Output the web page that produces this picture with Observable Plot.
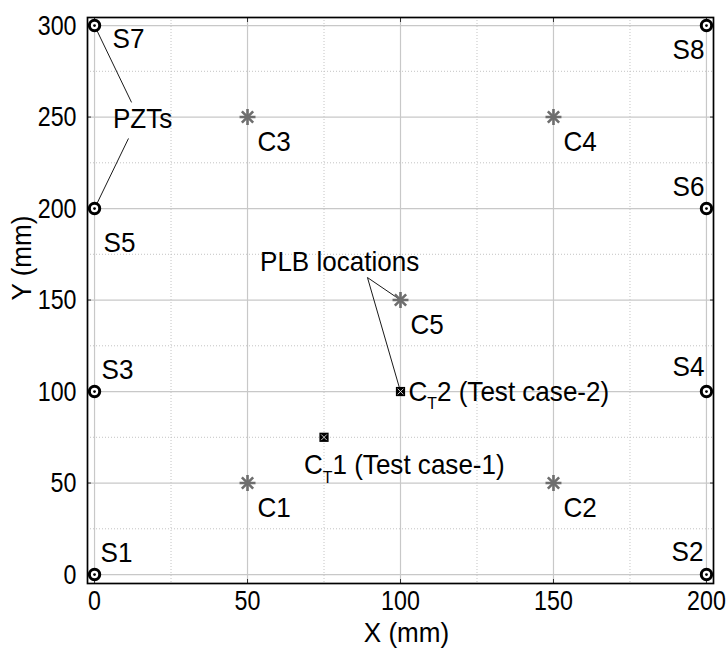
<!DOCTYPE html>
<html>
<head>
<meta charset="utf-8">
<script src="https://cdn.jsdelivr.net/npm/d3@7"></script>
<script src="https://cdn.jsdelivr.net/npm/@observablehq/plot@0.6"></script>
<style>
  body { margin: 0; background: #fff; }
  #chart svg { display: block; }
</style>
</head>
<body>
<div id="chart"></div>
<script>
// PZT sensor positions on the 200 x 300 mm plate
const sensorNames = ["S1", "S2", "S3", "S4", "S5", "S6", "S7", "S8"];
const sensorX = [0, 200, 0, 200, 0, 200, 0, 200];
const sensorY = [0, 0, 100, 100, 200, 200, 300, 300];

// Pencil-lead-break calibration locations
const plbNames = ["C1", "C2", "C3", "C4", "C5"];
const plbX = [50, 150, 50, 150, 100];
const plbY = [50, 50, 250, 250, 150];

// Test-case source locations
const testNames = ["C_T1 (Test case-1)", "C_T2 (Test case-2)"];
const testX = [75, 100];
const testY = [75, 100];

// Axis ticks
const xTicks = [0, 50, 100, 150, 200];
const yTicks = [0, 50, 100, 150, 200, 250, 300];
const xMinor = [25, 75, 125, 175];
const yMinor = [25, 75, 125, 175, 225, 275];

// Callout text anchors (data units)
const pztCallout = {text: "PZTs", x: 15.7, y: 249, upper: [12.1, 258], lower: [11.1, 238.3]};
const plbCallout = {text: "PLB locations", x: 80.1, y: 170.5, apex: [89.2, 162.3]};

const sensors = sensorNames.map((name, i) => ({name, x: sensorX[i], y: sensorY[i]}));
const plbs = plbNames.map((name, i) => ({name, x: plbX[i], y: plbY[i]}));
const tests = testNames.map((name, i) => ({name, x: testX[i], y: testY[i]}));

// Label placement for each sensor name (pixels)
const sensorLabelPlacement = {
  S1: {dx: 6, dy: -22, anchor: "start"},
  S2: {dx: -3, dy: -23, anchor: "end"},
  S3: {dx: 7, dy: -22, anchor: "start"},
  S4: {dx: -2, dy: -25, anchor: "end"},
  S5: {dx: 9, dy: 34, anchor: "start"},
  S6: {dx: -2, dy: -22, anchor: "end"},
  S7: {dx: 18, dy: 13, anchor: "start"},
  S8: {dx: -2, dy: 24, anchor: "end"}
};

const FONT = "'Liberation Sans', Arial, Helvetica, sans-serif";
const FS = 28;

const pztLinks = [
  {x1: sensors[6].x, y1: sensors[6].y, x2: pztCallout.upper[0], y2: pztCallout.upper[1]},
  {x1: sensors[4].x, y1: sensors[4].y, x2: pztCallout.lower[0], y2: pztCallout.lower[1]}
];
const plbLinks = [
  {x1: plbCallout.apex[0], y1: plbCallout.apex[1], x2: plbs[4].x, y2: plbs[4].y},
  {x1: plbCallout.apex[0], y1: plbCallout.apex[1], x2: tests[1].x, y2: tests[1].y}
];

const chart = Plot.plot({
  width: 728,
  height: 651,
  marginLeft: 87,
  marginRight: 15,
  marginTop: 17,
  marginBottom: 68,
  style: {fontFamily: FONT, fontSize: FS + "px", color: "black", background: "white"},
  x: {domain: [-2.3, 202.3], label: null},
  y: {domain: [-4.9, 304.4], label: null},
  marks: [
    // minor dotted grid
    Plot.ruleX(xMinor, {stroke: "#c4c4c4", strokeWidth: 1, strokeDasharray: "1,2"}),
    Plot.ruleY(yMinor, {stroke: "#c4c4c4", strokeWidth: 1, strokeDasharray: "1,2"}),
    // major grid
    Plot.ruleX(xTicks, {stroke: "#c8c8c8", strokeWidth: 1.2}),
    Plot.ruleY(yTicks, {stroke: "#c8c8c8", strokeWidth: 1.2}),
    // tick labels
    Plot.axisX(xTicks, {tickSize: 0, tickPadding: 7, label: null, fontSize: FS}),
    Plot.axisY(yTicks, {tickSize: 0, tickPadding: 11, label: null, fontSize: FS}),
    // small inward ticks
    Plot.axisX(xTicks, {anchor: "bottom", tickSize: -4, text: null, label: null, stroke: "#333"}),
    Plot.axisX(xTicks, {anchor: "top", tickSize: -4, text: null, label: null, stroke: "#333"}),
    Plot.axisY(yTicks, {anchor: "left", tickSize: -4, text: null, label: null, stroke: "#333"}),
    Plot.axisY(yTicks, {anchor: "right", tickSize: -4, text: null, label: null, stroke: "#333"}),
    Plot.frame({stroke: "black", strokeWidth: 1.7}),
    // axis titles
    Plot.text(["X (mm)"], {frameAnchor: "bottom", dx: 6, dy: 58, text: d => d, fontSize: FS}),
    Plot.text(["Y (mm)"], {frameAnchor: "left", dx: -65, rotate: -90, text: d => d, fontSize: FS}),
    // callout leaders
    Plot.link(pztLinks, {x1: "x1", y1: "y1", x2: "x2", y2: "y2", stroke: "black", strokeWidth: 0.9}),
    Plot.link(plbLinks, {x1: "x1", y1: "y1", x2: "x2", y2: "y2", stroke: "black", strokeWidth: 0.9}),
    // PZT sensors: ring with centre dot
    Plot.dot(sensors, {x: "x", y: "y", r: 5.2, fill: "white", stroke: "black", strokeWidth: 3}),
    Plot.dot(sensors, {x: "x", y: "y", r: 1.4, fill: "black"}),
    // PLB locations: eight-arm asterisk
    Plot.dot(plbs, {x: "x", y: "y", symbol: "plus", r: 5.2, stroke: "#6e6e6e", strokeWidth: 2.6}),
    Plot.dot(plbs, {x: "x", y: "y", symbol: "times", r: 5.2, stroke: "#6e6e6e", strokeWidth: 2.6}),
    // test cases: boxed cross
    Plot.dot(tests, {x: "x", y: "y", symbol: "square", r: 5.2, fill: "black"}),
    Plot.dot(tests, {x: "x", y: "y", symbol: "times", r: 2.7, stroke: "#ddd", strokeWidth: 0.9}),
    // sensor labels
    ...sensorNames.map(name => {
      const p = sensorLabelPlacement[name];
      return Plot.text(sensors.filter(d => d.name === name), {
        x: "x", y: "y", text: "name", dx: p.dx, dy: p.dy, textAnchor: p.anchor, fontSize: FS
      });
    }),
    // PLB labels
    Plot.text(plbs, {x: "x", y: "y", text: "name", dx: 10, dy: 25, textAnchor: "start", fontSize: FS}),
    // test-case labels
    Plot.text(tests.slice(0, 1), {x: "x", y: "y", text: "name", dx: -20, dy: 28, textAnchor: "start", fontSize: FS}),
    Plot.text(tests.slice(1), {x: "x", y: "y", text: "name", dx: 8, dy: 0, textAnchor: "start", fontSize: FS}),
    // callout texts
    Plot.text([pztCallout], {x: "x", y: "y", text: "text", fontSize: FS}),
    Plot.text([plbCallout], {x: "x", y: "y", text: "text", fontSize: FS})
  ]
});

// Render "C_T" as C with a subscript T
const ns = "http://www.w3.org/2000/svg";
chart.querySelectorAll("text").forEach(t => {
  const s = t.textContent;
  if (s.startsWith("C_T")) {
    const rest = s.slice(3);
    t.textContent = "";
    t.appendChild(document.createTextNode("C"));
    const sub = document.createElementNS(ns, "tspan");
    sub.setAttribute("font-size", "17");
    sub.setAttribute("dy", "9");
    sub.textContent = "T";
    t.appendChild(sub);
    const tail = document.createElementNS(ns, "tspan");
    tail.setAttribute("dy", "-9");
    tail.textContent = rest;
    t.appendChild(tail);
  }
});

document.getElementById("chart").appendChild(chart);

// Condensed lettering: numerals narrower than words
chart.querySelectorAll("text").forEach(t => {
  const s = t.textContent;
  if (!s) return;
  const len = t.getComputedTextLength();
  if (!len) return;
  const factor = /^[0-9]+$/.test(s) ? 0.83 : 0.93;
  t.setAttribute("textLength", (len * factor).toFixed(1));
  t.setAttribute("lengthAdjust", "spacingAndGlyphs");
});
</script>
</body>
</html>
